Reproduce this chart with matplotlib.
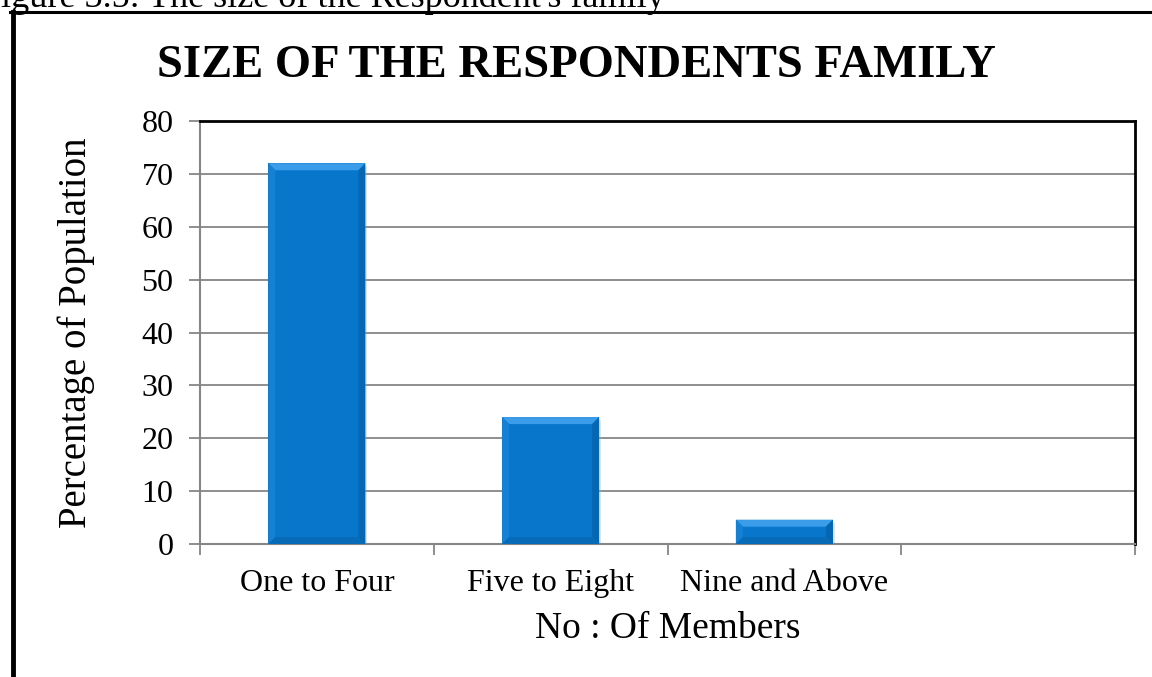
import matplotlib
matplotlib.use("Agg")
import matplotlib.pyplot as plt
from matplotlib.patches import Polygon
from matplotlib.lines import Line2D
import numpy as np

categories = ["One to Four", "Five to Eight", "Nine and Above", ""]
values = [72, 24, 4.6, 0]
yticks = [0, 10, 20, 30, 40, 50, 60, 70, 80]
title = "SIZE OF THE RESPONDENTS FAMILY"
xlabel = "No : Of Members"
ylabel = "Percentage of Population"
caption = "Figure 3.5: The size of the Respondent's family"

W, H, DPI = 1152, 677, 100
plt.rcParams['font.family'] = ['Liberation Serif', 'DejaVu Serif']

fig = plt.figure(figsize=(W / DPI, H / DPI), dpi=DPI)
ax = fig.add_axes([200 / W, 1 - 544 / H, 935 / W, 423 / H])

x = np.arange(len(categories))
main_col = "#0776CB"
bars = ax.bar(x[:3], values[:3], width=0.415, color=main_col, zorder=3, linewidth=0)

ax.set_xlim(-0.5, len(categories) - 0.5)
ax.set_ylim(0, 80)
ax.set_yticks(yticks)
ax.set_yticklabels([str(v) for v in yticks], fontsize=23)
ax.set_xticks(x)
ax.set_xticklabels(categories, fontsize=23)
ax.set_xticks(np.arange(len(categories) + 1) - 0.5, minor=True)
ax.tick_params(axis='x', which='major', length=0, pad=18)
ax.tick_params(axis='x', which='minor', length=8, width=1.3, color="#868686", direction='out')
ax.tick_params(axis='y', length=8, width=1.3, color="#868686", pad=11, direction='out')

ax.yaxis.grid(True, color="#868686", linewidth=1.3, zorder=0)
ax.set_axisbelow(True)
for s in ['left', 'bottom']:
    ax.spines[s].set_color("#868686")
    ax.spines[s].set_linewidth(1.5)
for s in ['top', 'right']:
    ax.spines[s].set_color("black")
    ax.spines[s].set_linewidth(2)

ax.set_xlabel(xlabel, fontsize=27, labelpad=10)
ax.set_ylabel(ylabel, fontsize=28)
ax.yaxis.set_label_coords((76 - 200) / 935, 0.5)
ax.yaxis.label.set_va('center')

fig.text(576 / W, 1 - 77 / H, title, fontsize=33.6, fontweight='bold', ha='center', va='baseline')
fig.text(665 / W, 1 - 7 / H, caption, fontsize=26, ha='right', va='baseline')

# figure border lines
fig.add_artist(Line2D([12.5 / W, 12.5 / W], [0, 1 - 12 / H], color='black', linewidth=3.5, transform=fig.transFigure))
fig.add_artist(Line2D([10 / W, 1], [1 - 12 / H, 1 - 12 / H], color='black', linewidth=2.2, transform=fig.transFigure))

# bevel effect on bars (computed from bar geometry)
inv = ax.transData.inverted()
bev = 7  # px
for b in bars:
    x0, y0 = b.get_x(), b.get_y()
    x1, y1 = x0 + b.get_width(), y0 + b.get_height()
    (px0, py0) = ax.transData.transform((x0, y0))
    (px1, py1) = ax.transData.transform((x1, y1))
    bb = min(bev, (py1 - py0) / 2.5)
    def P(pts):
        return [inv.transform(p) for p in pts]
    top = P([(px0, py1), (px1, py1), (px1 - bb, py1 - bb), (px0 + bb, py1 - bb)])
    bot = P([(px0, py0), (px1, py0), (px1 - bb, py0 + bb), (px0 + bb, py0 + bb)])
    left = P([(px0, py0), (px0 + bb, py0 + bb), (px0 + bb, py1 - bb), (px0, py1)])
    right = P([(px1, py0), (px1 - bb, py0 + bb), (px1 - bb, py1 - bb), (px1, py1)])
    ax.add_patch(Polygon(top, closed=True, color="#3B9DE9", zorder=4, linewidth=0))
    ax.add_patch(Polygon(left, closed=True, color="#1481D4", zorder=4, linewidth=0))
    ax.add_patch(Polygon(right, closed=True, color="#0566B2", zorder=4, linewidth=0))
    ax.add_patch(Polygon(bot, closed=True, color="#086BB8", zorder=4, linewidth=0))
    sh = P([(px0 + 2, py0), (px1 + 2, py0), (px1 + 2, py1 - 3), (px1, py1 - 3), (px1, py0)])
    ax.add_patch(Polygon(sh, closed=True, color="#B0B0B0", alpha=0.35, zorder=2.5, linewidth=0))

fig.savefig("out.png", dpi=DPI)
